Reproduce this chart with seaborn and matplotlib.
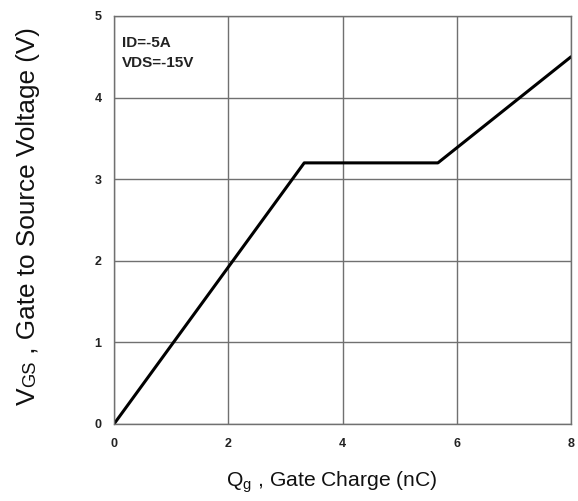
import matplotlib
matplotlib.use("Agg")
import matplotlib.pyplot as plt
import seaborn as sns
import pandas as pd

# Gate charge curve breakpoints
gate_charge_nc = [0.0, 3.33, 5.67, 8.0]
vgs_volts = [0.0, 3.2, 3.2, 4.5]
x_ticks = [0, 2, 4, 6, 8]
y_ticks = [0, 1, 2, 3, 4, 5]
conditions = ["ID=-5A", "VDS=-15V"]
ylabel_parts = ["V", "GS", " , Gate to Source Voltage (V)"]
xlabel_text = r"Q$_\mathregular{g}$ , Gate Charge (nC)"

sns.set_theme(style="white")
plt.rcParams["font.family"] = ["Liberation Sans", "DejaVu Sans"]

df = pd.DataFrame({"Qg": gate_charge_nc, "VGS": vgs_volts})

W, H = 578, 501
fig = plt.figure(figsize=(W / 100, H / 100), dpi=100)
ax = fig.add_axes([114 / W, 1 - 424 / H, 457 / W, 408 / H])

sns.lineplot(data=df, x="Qg", y="VGS", ax=ax, color="black", linewidth=2.2,
             sort=False, estimator=None)

ax.set_xlim(0, 8)
ax.set_ylim(0, 5)
ax.set_xticks(x_ticks)
ax.set_yticks(y_ticks)
ax.set_xticklabels([str(t) for t in x_ticks], fontsize=9, fontweight="bold", color="#222222")
ax.set_yticklabels([str(t) for t in y_ticks], fontsize=9, fontweight="bold", color="#222222")
ax.tick_params(axis="both", length=0, pad=9)
ax.tick_params(axis="x", pad=10)
ax.set_xlabel("")
ax.set_ylabel("")

ax.grid(True, color="#707070", linewidth=1.0)
for s in ax.spines.values():
    s.set_color("#707070")
    s.set_linewidth(1.0)

# x-axis title
fig.text(332 / W, 1 - 486 / H, xlabel_text, fontsize=15.2, ha="center",
         va="baseline", color="#111111")

# y-axis title: "V" followed by a smaller "GS" on the same baseline
renderer = fig.canvas.get_renderer()
sizes = [19.0, 13.2, 18.8]
base_x = 35 / W
pos_y = 405.0  # pixel row (from top) where the title starts
for part, fs in zip(ylabel_parts, sizes):
    t = fig.text(base_x, 1 - pos_y / H, part, fontsize=fs, rotation=90,
                 rotation_mode="anchor", ha="left", va="baseline", color="#111111")
    ext = t.get_window_extent(renderer=renderer)
    pos_y -= ext.height

ax.text(0.018, 0.935, conditions[0], transform=ax.transAxes, fontsize=11,
        family=["Liberation Sans Narrow", "Liberation Sans"],
        fontweight="bold", va="center", ha="left", color="#222222")
ax.text(0.018, 0.884, conditions[1], transform=ax.transAxes, fontsize=11,
        family=["Liberation Sans Narrow", "Liberation Sans"],
        fontweight="bold", va="center", ha="left", color="#222222")

fig.savefig("out.png", dpi=100)
